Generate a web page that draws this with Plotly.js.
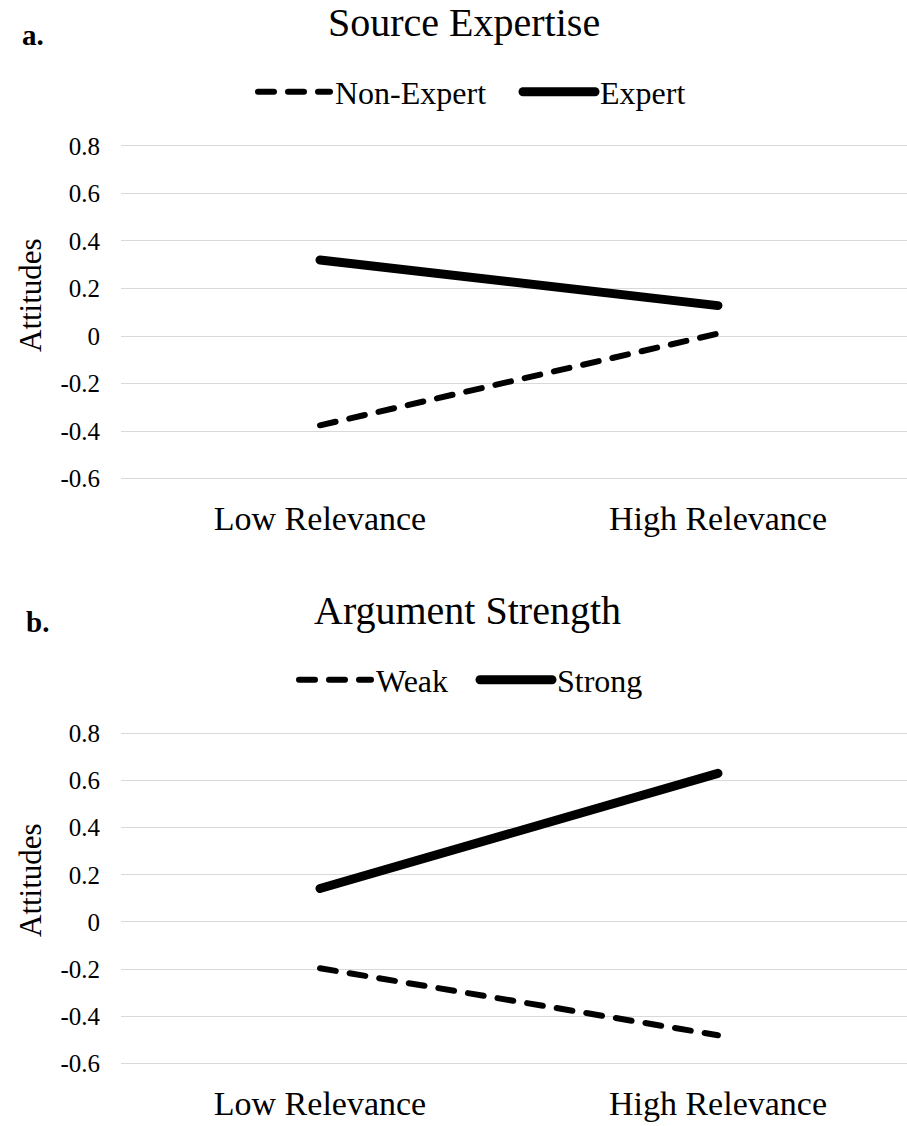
<!DOCTYPE html>
<html>
<head>
<meta charset="utf-8">
<script src="https://cdn.plot.ly/plotly-3.0.1.min.js"></script>
<style>
html, body { margin: 0; padding: 0; background: #fff; }
#chart { width: 907px; height: 1126px; }
#chart path.js-line { stroke-linecap: round; stroke-linejoin: round; }
</style>
</head>
<body>
<div id="chart"></div>
<script>
// ---- data ----
const categories = ['Low Relevance', 'High Relevance'];
const nonExpert = [-0.376, 0.01];
const expert = [0.32, 0.128];
const weak = [-0.196, -0.48];
const strong = [0.142, 0.63];
const yTickVals = [-0.6, -0.4, -0.2, 0, 0.2, 0.4, 0.6, 0.8];
const yTickText = ['-0.6', '-0.4', '-0.2', '0', '0.2', '0.4', '0.6', '0.8'];
const panelTitles = ['Source Expertise', 'Argument Strength'];
const panelLetters = ['a.', 'b.'];
const yTitle = 'Attitudes';

const FONT = 'Liberation Serif, Times New Roman, serif';
const W = 907, H = 1126;
const px = v => v / W;
const py = v => 1 - v / H;

const dashStyle = {color: '#000', width: 6, dash: '16px,14px'};
const solidStyle = {color: '#000', width: 9};

const traces = [
  {x: categories, y: nonExpert, name: 'Non-Expert', type: 'scatter', mode: 'lines',
   line: dashStyle, xaxis: 'x', yaxis: 'y', legend: 'legend'},
  {x: categories, y: expert, name: 'Expert', type: 'scatter', mode: 'lines',
   line: solidStyle, xaxis: 'x', yaxis: 'y', legend: 'legend'},
  {x: categories, y: weak, name: 'Weak', type: 'scatter', mode: 'lines',
   line: dashStyle, xaxis: 'x2', yaxis: 'y2', legend: 'legend2'},
  {x: categories, y: strong, name: 'Strong', type: 'scatter', mode: 'lines',
   line: solidStyle, xaxis: 'x2', yaxis: 'y2', legend: 'legend2'}
];

function xAx(anchor) {
  return {
    type: 'category', domain: [121 / W, 1], anchor: anchor,
    range: [-0.5, 1.475], showgrid: false, zeroline: false, showline: false,
    ticks: '', tickfont: {family: FONT, size: 34, color: '#000'},
    ticklabelstandoff: 14, fixedrange: true
  };
}
function yAx(anchor, dom) {
  return {
    domain: dom, anchor: anchor, range: [-0.61, 0.81],
    tickvals: yTickVals, ticktext: yTickText,
    showgrid: true, gridcolor: '#d9d9d9', gridwidth: 1,
    zeroline: false, showline: false, ticks: '',
    tickfont: {family: FONT, size: 25, color: '#000'},
    ticklabelstandoff: 20, fixedrange: true
  };
}

const legendBase = {
  orientation: 'h', xref: 'paper', yref: 'paper',
  xanchor: 'left', yanchor: 'middle', bgcolor: 'rgba(0,0,0,0)',
  font: {family: FONT, size: 32, color: '#000'}, traceorder: 'normal',
  itemwidth: 72
};

const layout = {
  width: W, height: H,
  margin: {l: 0, r: 0, t: 0, b: 0, autoexpand: false},
  paper_bgcolor: '#fff', plot_bgcolor: '#fff',
  showlegend: true,
  xaxis: xAx('y'),
  yaxis: yAx('x', [1 - 480.9 / H, 1 - 143.6 / H]),
  xaxis2: xAx('y2'),
  yaxis2: yAx('x2', [1 - 1065.9 / H, 1 - 730.9 / H]),
  legend: Object.assign({}, legendBase, {x: px(253), y: py(92), entrywidth: 178}),
  legend2: Object.assign({}, legendBase, {x: px(294), y: py(680), entrywidth: 94}),
  annotations: [
    {text: panelTitles[0], x: px(464), y: py(22), xref: 'paper', yref: 'paper',
     showarrow: false, xanchor: 'center', yanchor: 'middle',
     font: {family: FONT, size: 40, color: '#000'}},
    {text: panelTitles[1], x: px(467), y: py(610), xref: 'paper', yref: 'paper',
     showarrow: false, xanchor: 'center', yanchor: 'middle',
     font: {family: FONT, size: 40, color: '#000'}},
    {text: '<b>' + panelLetters[0] + '</b>', x: px(33), y: py(35), xref: 'paper', yref: 'paper',
     showarrow: false, xanchor: 'center', yanchor: 'middle',
     font: {family: FONT, size: 29, color: '#000'}},
    {text: '<b>' + panelLetters[1] + '</b>', x: px(37), y: py(622), xref: 'paper', yref: 'paper',
     showarrow: false, xanchor: 'center', yanchor: 'middle',
     font: {family: FONT, size: 29, color: '#000'}},
    {text: yTitle, x: px(30), y: py(295), xref: 'paper', yref: 'paper', textangle: -90,
     showarrow: false, xanchor: 'center', yanchor: 'middle',
     font: {family: FONT, size: 31, color: '#000'}},
    {text: yTitle, x: px(30), y: py(880), xref: 'paper', yref: 'paper', textangle: -90,
     showarrow: false, xanchor: 'center', yanchor: 'middle',
     font: {family: FONT, size: 31, color: '#000'}}
  ]
};

Plotly.newPlot('chart', traces, layout, {staticPlot: true, displayModeBar: false});
</script>
</body>
</html>
